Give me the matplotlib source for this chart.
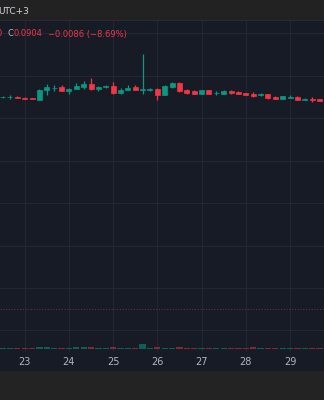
import numpy as np
import matplotlib
matplotlib.use('Agg')
from matplotlib import pyplot as plt
from matplotlib.patches import Rectangle

########################################################################
# Data (4h candles)
########################################################################

opens = [0.08998, 0.08999, 0.09001, 0.08995, 0.08987, 0.08971, 0.09078, 0.09108, 0.09117, 0.09066,
         0.09098, 0.09121, 0.09153, 0.09090, 0.09117, 0.09129, 0.09054, 0.09086, 0.09117, 0.09088,
         0.09088, 0.09094, 0.09030, 0.09121, 0.09169, 0.09082, 0.09066, 0.09038, 0.09078, 0.09048,
         0.09042, 0.09074, 0.09062, 0.09050, 0.09042, 0.09022, 0.09034, 0.09003, 0.08983, 0.08995,
         0.09003, 0.08971, 0.08983, 0.08979]
highs = [0.09007, 0.09022, 0.09007, 0.08999, 0.08991, 0.09090, 0.09149, 0.09145, 0.09137, 0.09109,
         0.09169, 0.09185, 0.09224, 0.09133, 0.09137, 0.09177, 0.09102, 0.09137, 0.09137, 0.09508,
         0.09113, 0.09102, 0.09137, 0.09180, 0.09173, 0.09090, 0.09086, 0.09082, 0.09082, 0.09066,
         0.09086, 0.09082, 0.09066, 0.09054, 0.09058, 0.09050, 0.09042, 0.09007, 0.09011, 0.09022,
         0.09007, 0.08987, 0.09003, 0.08983]
lows = [0.08991, 0.08983, 0.08991, 0.08977, 0.08977, 0.08967, 0.09030, 0.09066, 0.09066, 0.09038,
        0.09090, 0.09090, 0.09082, 0.09074, 0.09113, 0.09042, 0.09038, 0.09082, 0.09078, 0.09034,
        0.09066, 0.08963, 0.09030, 0.09109, 0.09058, 0.09038, 0.09034, 0.09034, 0.09034, 0.09026,
        0.09038, 0.09042, 0.09034, 0.09022, 0.09003, 0.09018, 0.08979, 0.08979, 0.08979, 0.08991,
        0.08963, 0.08967, 0.08947, 0.08951]
closes = [0.09001, 0.09003, 0.08995, 0.08979, 0.08979, 0.09082, 0.09117, 0.09111, 0.09070, 0.09098,
          0.09129, 0.09153, 0.09090, 0.09121, 0.09133, 0.09050, 0.09086, 0.09113, 0.09086, 0.09090,
          0.09090, 0.09030, 0.09129, 0.09169, 0.09074, 0.09050, 0.09038, 0.09078, 0.09038, 0.09052,
          0.09074, 0.09050, 0.09038, 0.09026, 0.09011, 0.09034, 0.08995, 0.08983, 0.09007, 0.09003,
          0.08967, 0.08983, 0.08967, 0.08955]
volumes = [50, 50, 75, 75, 75, 100, 100, 75, 75, 50,
           100, 100, 140, 75, 50, 100, 50, 50, 75, 275,
           50, 100, 50, 50, 100, 75, 75, 50, 75, 50,
           50, 75, 75, 75, 100, 50, 75, 75, 50, 50,
           75, 50, 75, 75]

day_labels = ['23', '24', '25', '26', '27', '28', '29']
day_index = [3, 9, 15, 21, 27, 33, 39]
grid_prices = [0.0625, 0.0675, 0.0725, 0.0775, 0.0825, 0.0875, 0.0925, 0.0975]
prev_line = 0.0650

########################################################################
# Style
########################################################################

BG = '#171b26'
GRID = '#232734'
UP = '#089981'
DOWN = '#f23645'
TXT = '#b2b5be'

fig = plt.figure(figsize=(3.24, 4.0), dpi=100, facecolor='#232323')
fig.add_artist(Rectangle((0, 30 / 400), 1, 349 / 400, transform=fig.transFigure,
                         color=BG, zorder=0))
fig.add_artist(Rectangle((0, 380 / 400), 1, 20 / 400, transform=fig.transFigure,
                         color='#222222', zorder=0))
fig.add_artist(Rectangle((0, 378 / 400), 1, 2 / 400, transform=fig.transFigure,
                         color='#2a2a35', zorder=0))

ax = fig.add_axes([0, 48 / 400, 1, 331 / 400])
ax.set_facecolor(BG)
for s in ax.spines.values():
    s.set_visible(False)

x = np.arange(len(opens))
colors = [UP if c >= o else DOWN for o, c in zip(opens, closes)]

ax.vlines(x, lows, highs, colors=colors, linewidth=0.9, zorder=3)
bottoms = np.minimum(opens, closes)
heights = np.abs(np.array(closes) - np.array(opens))
ax.bar(x, heights, bottom=bottoms, width=0.68, color=colors, edgecolor=colors,
       linewidth=0.5, zorder=4)

ax.axhline(prev_line, color='#6b2c44', linewidth=0.8, linestyle=(0, (1, 1.5)), zorder=2)

ax.set_xlim(-0.35, 43.61)
ax.set_ylim(0.05995, 0.09897)
ax.set_yticks(grid_prices)
ax.set_xticks(day_index)
ax.set_xticklabels(day_labels)
ax.tick_params(axis='x', length=0, pad=3.5, colors=TXT, labelsize=7)
ax.tick_params(axis='y', length=0, labelleft=False)
ax.grid(True, color=GRID, linewidth=0.8, zorder=0)
ax.set_axisbelow(True)

# volume overlay at the bottom of the pane
ax2 = ax.twinx()
vcolors = [(0.03, 0.6, 0.5, 0.55) if c == UP else (0.95, 0.21, 0.27, 0.5) for c in colors]
ax2.bar(x, volumes, width=0.85, color=vcolors, zorder=1)
ax2.set_ylim(-135, 16415)
ax2.axis('off')

########################################################################
# Header text
########################################################################

def fx(px):
    return px / 324

def fy(py):
    return 1 - py / 400

fig.text(fx(-1.5), fy(12), 'UTC+3', color='#d1d4dc', fontsize=6.5, va='center', ha='left')
fig.text(fx(2), fy(34), '0', color=DOWN, fontsize=6, va='center', ha='right')
fig.text(fx(8), fy(34), 'C', color=TXT, fontsize=6, va='center', ha='left')
fig.text(fx(13.5), fy(34), '0.0904', color=DOWN, fontsize=6, va='center', ha='left')
fig.text(fx(48), fy(34), '\u22120.0086 (\u22128.69%)', color=DOWN, fontsize=6,
         va='center', ha='left')

plt.savefig('out.png', dpi=100, facecolor=fig.get_facecolor())
